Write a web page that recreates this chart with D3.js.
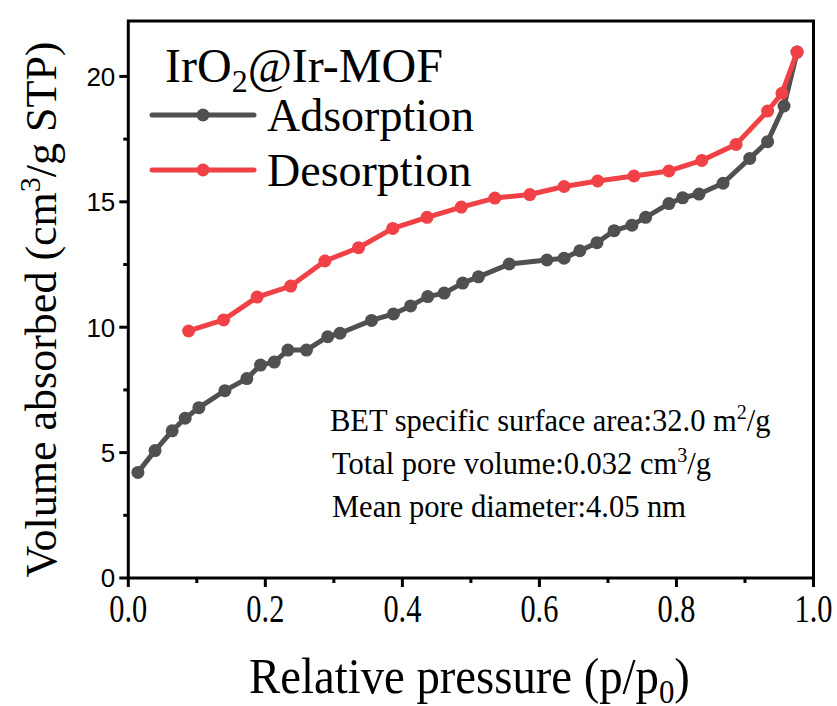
<!DOCTYPE html>
<html><head><meta charset="utf-8">
<script src="https://cdn.jsdelivr.net/npm/d3@7"></script>
<style>body{margin:0;background:#fff}</style>
</head><body>
<svg id="c" width="837" height="706"></svg>
<script>
const adsX = [0.014,0.039,0.064,0.083,0.103,0.141,0.173,0.193,0.213,0.233,0.260,0.291,0.309,0.355,0.387,0.412,0.437,0.461,0.488,0.511,0.556,0.611,0.636,0.659,0.684,0.709,0.735,0.755,0.789,0.809,0.833,0.868,0.907,0.933,0.957,0.976];
const adsY = [4.21,5.08,5.87,6.37,6.79,7.47,7.95,8.49,8.61,9.09,9.09,9.62,9.76,10.27,10.53,10.85,11.22,11.36,11.76,12.01,12.52,12.68,12.75,13.05,13.37,13.85,14.07,14.38,14.93,15.16,15.31,15.74,16.73,17.40,18.82,20.97];
const desX = [0.088,0.139,0.188,0.237,0.287,0.336,0.386,0.436,0.486,0.535,0.586,0.636,0.685,0.738,0.789,0.837,0.887,0.933,0.954,0.976];
const desY = [9.85,10.29,11.20,11.64,12.64,13.17,13.94,14.38,14.79,15.15,15.29,15.61,15.83,16.03,16.23,16.65,17.29,18.62,19.33,20.97];
const xTicks = [0,0.2,0.4,0.6,0.8,1.0];
const xTickLabels = ["0.0","0.2","0.4","0.6","0.8","1.0"];
const yTicks = [0,5,10,15,20];
const yTickLabels = ["0","5","10","15","20"];
const seriesNames = ["Adsorption","Desorption"];
const colors = ["#505050","#f04146"];
const notes = [["BET specific surface area:32.0 m","2","/g"],["Total pore volume:0.032 cm","3","/g"],["Mean pore diameter:4.05 nm","",""]];

const svg = d3.select("#c");
const L=128.3, R=813.5, T=21, B=578;
const x = d3.scaleLinear().domain([0,1]).range([L,R]);
const y = d3.scaleLinear().domain([0,22.21]).range([B,T]);
const serif = "'Liberation Serif','Times New Roman',serif";
const sans = "'Liberation Sans',Arial,sans-serif";

// frame
svg.append("rect").attr("x",L).attr("y",T).attr("width",R-L).attr("height",B-T)
  .attr("fill","none").attr("stroke","#000").attr("stroke-width",3);

// x axis ticks
const xAx = svg.append("g").attr("transform",`translate(0,${B})`);
d3.range(0,11).forEach(i=>{
  const v=i/10, major=i%2===0;
  xAx.append("line").attr("x1",x(v)).attr("x2",x(v)).attr("y1",0).attr("y2",major?9:5)
    .attr("stroke","#000").attr("stroke-width",3);
});
xTicks.forEach((v,i)=>{
  xAx.append("text").attr("transform",`translate(${x(v)},44) scale(0.76,1)`)
    .attr("text-anchor","middle").attr("font-family",serif).attr("font-size",40)
    .attr("fill","#000").text(xTickLabels[i]);
});
// y axis
const yAx = svg.append("g").attr("transform",`translate(${L},0)`);
d3.range(0,9).forEach(i=>{
  const v=i*2.5, major=i%2===0;
  yAx.append("line").attr("x1",0).attr("x2",major?-9:-5).attr("y1",y(v)).attr("y2",y(v))
    .attr("stroke","#000").attr("stroke-width",3);
});
yTicks.forEach((v,i)=>{
  yAx.append("text").attr("x",-13).attr("y",y(v)).attr("dy","0.36em")
    .attr("text-anchor","end").attr("font-family",sans).attr("font-size",26)
    .attr("fill","#000").text(yTickLabels[i]);
});

// series
const line = d3.line().x(d=>x(d[0])).y(d=>y(d[1]));
const series = [d3.zip(adsX,adsY), d3.zip(desX,desY)];
series.forEach((s,k)=>{
  svg.append("path").datum(s).attr("d",line).attr("fill","none")
    .attr("stroke",colors[k]).attr("stroke-width",5).attr("stroke-linejoin","round");
  svg.append("g").selectAll("circle").data(s).join("circle")
    .attr("cx",d=>x(d[0])).attr("cy",d=>y(d[1])).attr("r",6.5).attr("fill",colors[k]);
});

// legend
const title = svg.append("text").attr("x",165).attr("y",82).attr("font-family",serif).attr("font-size",48);
title.append("tspan").text("IrO");
title.append("tspan").attr("font-size",32).attr("dy",10).text("2");
title.append("tspan").attr("dy",-10).text("@Ir-MOF");
seriesNames.forEach((n,k)=>{
  const ly = 115 + k*55;
  svg.append("line").attr("x1",152).attr("x2",254).attr("y1",ly).attr("y2",ly)
    .attr("stroke",colors[k]).attr("stroke-width",5).attr("stroke-linecap","round");
  svg.append("circle").attr("cx",203).attr("cy",ly).attr("r",6.5).attr("fill",colors[k]);
  svg.append("text").attr("x",267).attr("y",ly+16).attr("font-family",serif).attr("font-size",46).text(n);
});

// notes
notes.forEach((n,i)=>{
  const t = svg.append("text").attr("x",i===0?330:332).attr("y",431+i*43).attr("font-family",serif).attr("font-size",30.5);
  t.append("tspan").text(n[0]);
  if(n[1]){ t.append("tspan").attr("font-size",20).attr("dy",-12).text(n[1]);
            t.append("tspan").attr("dy",12).text(n[2]); }
});

// axis titles
const xt = svg.append("text").attr("font-family",serif).attr("font-size",50).attr("text-anchor","middle");
xt.append("tspan").text("Relative pressure (p/p");
xt.append("tspan").attr("font-size",33).attr("dy",10).text("0");
xt.append("tspan").attr("dy",-10).text(")");
const xtw = xt.node().getComputedTextLength();
xt.attr("transform",`translate(469.5,693) scale(${441/xtw},1)`);

const yt = svg.append("text").attr("transform",`translate(56,${(T+B)/2+10}) rotate(-90)`)
  .attr("text-anchor","middle").attr("font-family",serif).attr("font-size",44);
yt.append("tspan").text("Volume absorbed (cm");
yt.append("tspan").attr("font-size",30).attr("dy",-16).text("3");
yt.append("tspan").attr("dy",16).text("/g STP)");
</script>
</body></html>
